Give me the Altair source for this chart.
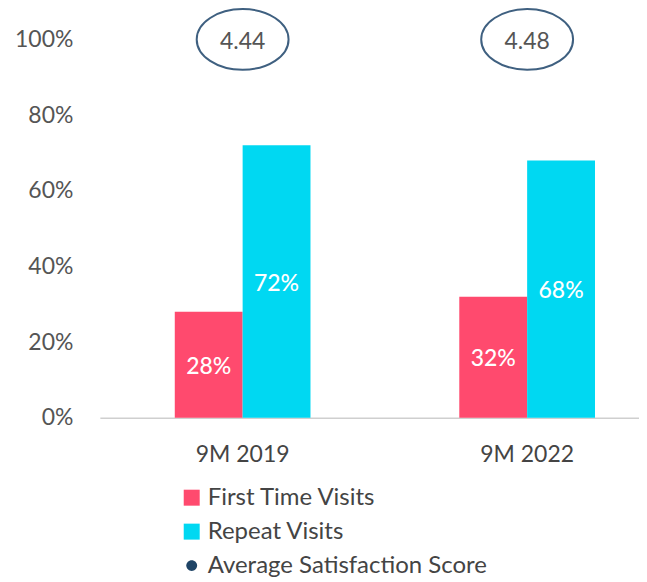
import altair as alt
import pandas as pd

periods = ["9M 2019", "9M 2022"]
series = ["First Time Visits", "Repeat Visits"]
first_time = [28, 32]
repeat = [72, 68]
scores = [4.44, 4.48]
legend_items = ["First Time Visits", "Repeat Visits", "Average Satisfaction Score"]
y_ticks = [0, 20, 40, 60, 80, 100]

colors = ["#FF4A6E", "#00D8F2", "#1F4466"]
FONT = "Lato"
FS = 23

rows = []
for i, p in enumerate(periods):
    rows.append({"period": p, "series": series[0], "value": first_time[i]})
    rows.append({"period": p, "series": series[1], "value": repeat[i]})
bars_df = pd.DataFrame(rows)
bars_df["label"] = bars_df["value"].astype(str) + "%"
bars_df["mid"] = bars_df["value"] / 2

score_df = pd.DataFrame({"period": periods, "score": [f"{s:.2f}" for s in scores], "top": [100, 100]})
legend_df = pd.DataFrame({"series": legend_items})

x_scale = alt.Scale(domain=periods, paddingInner=0.523, paddingOuter=0.209, align=0.63)
y_scale = alt.Scale(domain=[0, 100], nice=False)

x_enc = alt.X("period:N", scale=x_scale, sort=periods,
              axis=alt.Axis(title=None, labelAngle=0, ticks=False, domain=True,
                            domainColor="#cfcfcf", domainWidth=1.5,
                            labelFontSize=FS, labelColor="#444444", labelFont=FONT,
                            labelPadding=26))
x_enc_plain = alt.X("period:N", scale=x_scale, sort=periods)

bars = alt.Chart(bars_df).mark_bar().encode(
    x=x_enc,
    xOffset=alt.XOffset("series:N", sort=series, scale=alt.Scale(paddingInner=0, paddingOuter=0)),
    y=alt.Y("value:Q", scale=y_scale,
            axis=alt.Axis(title=None, values=y_ticks, labelExpr="datum.value + '%'",
                          grid=False, ticks=False, domain=False,
                          labelFontSize=FS, labelColor="#555555", labelFont=FONT,
                          labelPadding=27)),
    fill=alt.Fill("series:N", scale=alt.Scale(domain=series, range=colors[:2]), legend=None),
)

bar_text = alt.Chart(bars_df).mark_text(color="white", fontSize=FS, font=FONT,
                                        fontWeight=500, baseline="middle", dy=2).encode(
    x=x_enc_plain,
    xOffset=alt.XOffset("series:N", sort=series, scale=alt.Scale(paddingInner=0, paddingOuter=0)),
    y=alt.Y("mid:Q", scale=y_scale),
    text="label:N",
)

ellipse_path = "M -1 0 A 1 0.66 0 1 0 1 0 A 1 0.66 0 1 0 -1 0 Z"
ellipses = alt.Chart(score_df).mark_point(
    shape=ellipse_path, filled=False, stroke="#3F6080", strokeWidth=2, size=8464, opacity=1
).encode(
    x=x_enc_plain,
    y=alt.Y("top:Q", scale=y_scale),
)

score_text = alt.Chart(score_df).mark_text(color="#555555", fontSize=FS, font=FONT,
                                           baseline="middle", dy=3).encode(
    x=x_enc_plain,
    y=alt.Y("top:Q", scale=y_scale),
    text="score:N",
)

dot_path = "M -0.68 0 A 0.68 0.68 0 1 0 0.68 0 A 0.68 0.68 0 1 0 -0.68 0 Z"
legend_layer = alt.Chart(legend_df).mark_point(filled=True, size=0, opacity=1).encode(
    color=alt.Color("series:N", scale=alt.Scale(domain=legend_items, range=colors),
                    legend=alt.Legend(title=None, orient="none", legendX=80, legendY=447,
                                      direction="vertical", symbolSize=256,
                                      labelFontSize=24, labelColor="#444444", labelFont=FONT,
                                      labelOffset=4, rowPadding=10, padding=0, labelLimit=500,
                                      symbolStrokeWidth=0)),
    shape=alt.Shape("series:N", scale=alt.Scale(domain=legend_items,
                                                range=["square", "square", dot_path])),
)

chart = alt.layer(bars, bar_text, ellipses, score_text, legend_layer).properties(
    width=540, height=379,
    padding={"left": 92, "top": 31, "right": 0, "bottom": 172},
    autosize=alt.AutoSizeParams(type="none"),
    background="white",
).configure_view(stroke=None)

chart.save("out.html", embed_options={"renderer": "svg", "actions": False})
